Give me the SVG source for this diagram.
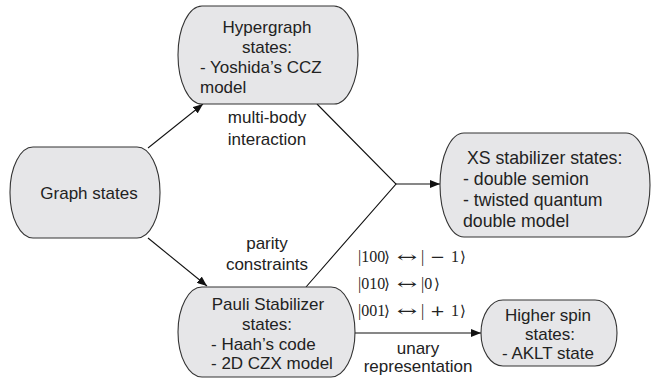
<svg xmlns="http://www.w3.org/2000/svg" width="654" height="382" viewBox="0 0 654 382">
<style>
.node{fill:#e6e6e8;stroke:#333;stroke-width:1.1}
.t{font-family:"Liberation Sans",Arial,sans-serif;font-size:17px;fill:#222}
.xs{font-size:17.7px}
.c{text-anchor:middle}
.m{font-family:"DejaVu Serif",serif;font-size:15px;fill:#222}
.d{font-family:"Liberation Serif",serif;font-size:16px}
.e{fill:none;stroke:#111;stroke-width:1.1}
</style>
<defs>
<marker id="ah" viewBox="0 0 10 8" refX="10" refY="4" markerWidth="10" markerHeight="8" markerUnits="userSpaceOnUse" orient="auto">
<path d="M0,0 L10,4 L0,8 Z" fill="#111"/>
</marker>
</defs>
<rect width="654" height="382" fill="#fff"/>
<g id="connectors">
<line class="e" x1="148" y1="148" x2="203" y2="104" marker-end="url(#ah)"/>
<line class="e" x1="148" y1="238" x2="207" y2="286" marker-end="url(#ah)"/>
<polyline class="e" points="317,104 396,184 306,287"/>
<line class="e" x1="396" y1="184" x2="440" y2="184" marker-end="url(#ah)"/>
<line class="e" x1="355" y1="333" x2="481" y2="333" marker-end="url(#ah)"/>
<text class="t c" x="267" y="123">multi-body</text>
<text class="t c" x="267" y="145">interaction</text>
<text class="t c" x="267" y="249">parity</text>
<text class="t c" x="267" y="270">constraints</text>
<text class="t c" x="418" y="354">unary</text>
<text class="t c" x="418" y="372">representation</text>
<text class="m" y="262"><tspan x="358" class="d">|100</tspan><tspan x="384">⟩</tspan><tspan x="397" textLength="20" lengthAdjust="spacingAndGlyphs">↔</tspan><tspan x="421" class="d">|</tspan><tspan x="430" textLength="15" lengthAdjust="spacingAndGlyphs">−</tspan><tspan x="451" class="d">1</tspan><tspan x="460">⟩</tspan></text>
<text class="m" y="289"><tspan x="358" class="d">|010</tspan><tspan x="384">⟩</tspan><tspan x="397" textLength="20" lengthAdjust="spacingAndGlyphs">↔</tspan><tspan x="421" class="d">|0</tspan><tspan x="434">⟩</tspan></text>
<text class="m" y="316"><tspan x="358" class="d">|001</tspan><tspan x="384">⟩</tspan><tspan x="397" textLength="20" lengthAdjust="spacingAndGlyphs">↔</tspan><tspan x="421" class="d">|</tspan><tspan x="430" textLength="15" lengthAdjust="spacingAndGlyphs">+</tspan><tspan x="451" class="d">1</tspan><tspan x="460">⟩</tspan></text>
</g>
<g id="hypergraph">
<rect class="node" x="178" y="6" width="180" height="98" rx="24" ry="49"/>
<text class="t c" x="267" y="33">Hypergraph</text>
<text class="t c" x="267" y="53">states:</text>
<text class="t" x="200" y="73">- Yoshida’s CCZ</text>
<text class="t" x="200" y="93">model</text>
</g>
<g id="graph">
<rect class="node" x="10" y="147" width="150" height="91" rx="23" ry="45"/>
<text class="t c" x="89" y="199">Graph states</text>
</g>
<g id="xs">
<rect class="node" x="440" y="133" width="210" height="104" rx="24" ry="52"/>
<text class="t xs" x="467" y="164">XS stabilizer states:</text>
<text class="t xs" x="463" y="185">- double semion</text>
<text class="t xs" x="463" y="206">- twisted quantum</text>
<text class="t xs" x="463" y="227">double model</text>
</g>
<g id="pauli">
<rect class="node" x="178" y="287" width="177" height="90" rx="24" ry="45"/>
<text class="t c" x="268" y="310">Pauli Stabilizer</text>
<text class="t c" x="267" y="330">states:</text>
<text class="t" x="211" y="350">- Haah’s code</text>
<text class="t" x="211" y="369">- 2D CZX model</text>
</g>
<g id="higher">
<rect class="node" x="481" y="300" width="136" height="66" rx="22" ry="33"/>
<text class="t c" x="548" y="321">Higher spin</text>
<text class="t c" x="550" y="340">states:</text>
<text class="t c" x="548" y="359">- AKLT state</text>
</g>
</svg>
